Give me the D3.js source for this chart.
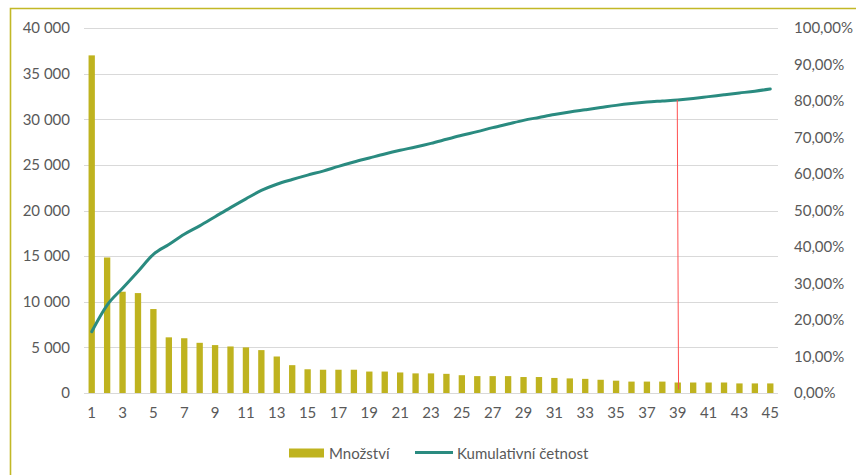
<!DOCTYPE html>
<html>
<head>
<meta charset="utf-8">
<script src="https://cdn.jsdelivr.net/npm/d3@7"></script>
<style>
  html, body { margin: 0; padding: 0; background: #fff; }
  svg text { font-family: Lato, "Open Sans", sans-serif; fill: #595959; }
</style>
</head>
<body>
<svg id="chart" width="856" height="475"></svg>
<script>
// Pareto chart: quantity per item (bars) and cumulative share (line)
const categories = d3.range(1, 46).map(String);

const quantities = [
  37000, 14850, 11100, 10950, 9200, 6100, 6000, 5500, 5250, 5100,
  5000, 4700, 4000, 3050, 2600, 2550, 2550, 2550, 2350, 2350,
  2250, 2150, 2150, 2100, 1950, 1850, 1850, 1850, 1750, 1750,
  1650, 1600, 1550, 1450, 1350, 1250, 1250, 1250, 1150, 1150,
  1150, 1150, 1050, 1050, 1050
];

// cumulative share in percent
const cumulative = [
  16.8, 24.1, 28.7, 33.3, 38.0, 40.7, 43.5, 45.8, 48.3, 50.8,
  53.2, 55.5, 57.2, 58.5, 59.7, 60.8, 62.1, 63.3, 64.4, 65.5,
  66.5, 67.4, 68.4, 69.5, 70.6, 71.6, 72.7, 73.7, 74.7, 75.5,
  76.3, 77.0, 77.6, 78.2, 78.8, 79.3, 79.7, 80.0, 80.3, 80.7,
  81.2, 81.7, 82.2, 82.7, 83.3
];

const leftTicks = [0, 5000, 10000, 15000, 20000, 25000, 30000, 35000, 40000];
const rightTicks = [0, 10, 20, 30, 40, 50, 60, 70, 80, 90, 100];
const xTickLabels = categories.filter((d, i) => i % 2 === 0);

const seriesNames = ["Množství", "Kumulativní četnost"];

// marker from the cumulative curve down to item 39
const markerItem = "39";
const markerBottomValue = 400;

const barColor = "#bfb31f";
const lineColor = "#2a8b80";
const gridColor = "#d9d9d9";
const fontSize = "15px";

const cz = d3.formatLocale({ decimal: ",", thousands: "\u00a0", grouping: [3], currency: ["", " Kč"] });
const fmtLeft = cz.format(",d");
const fmtRight = cz.format(".2%");

const svg = d3.select("#chart");
const plot = { left: 84, right: 778, top: 28, bottom: 393 };

const x = d3.scaleBand().domain(categories).range([plot.left, plot.right])
  .paddingInner(0.59).paddingOuter(0.295);
const y = d3.scaleLinear().domain([0, 40000]).range([plot.bottom, plot.top]);
const y2 = d3.scaleLinear().domain([0, 100]).range([plot.bottom, plot.top]);

// frame edges
svg.append("path")
  .attr("d", "M10.5,475 L10.5,8.5 L856,8.5")
  .attr("fill", "none").attr("stroke", "#c2b826").attr("stroke-width", 1.6);

// gridlines
svg.append("g").selectAll("line").data(leftTicks).join("line")
  .attr("x1", plot.left).attr("x2", plot.right)
  .attr("y1", d => Math.round(y(d)) + 0.5).attr("y2", d => Math.round(y(d)) + 0.5)
  .attr("stroke", gridColor).attr("stroke-width", 1);

// left axis
const leftAxis = d3.axisLeft(y).tickValues(leftTicks).tickFormat(fmtLeft).tickSize(0).tickPadding(14);
const gl = svg.append("g").attr("transform", `translate(${plot.left},0)`).call(leftAxis);
gl.select(".domain").remove();
gl.selectAll("text").style("font-size", fontSize).attr("fill", "#595959");

// right axis
const rightAxis = d3.axisRight(y2).tickValues(rightTicks).tickFormat(d => fmtRight(d / 100)).tickSize(0).tickPadding(16);
const gr = svg.append("g").attr("transform", `translate(${plot.right},0)`).call(rightAxis);
gr.select(".domain").remove();
gr.selectAll("text").style("font-size", fontSize).attr("fill", "#595959");

// bottom axis
const bottomAxis = d3.axisBottom(x).tickValues(xTickLabels).tickSize(0).tickPadding(14);
const gb = svg.append("g").attr("transform", `translate(0,${plot.bottom})`).call(bottomAxis);
gb.select(".domain").remove();
gb.selectAll("text").style("font-size", fontSize).attr("fill", "#595959");

// bars
svg.append("g").selectAll("rect").data(quantities).join("rect")
  .attr("x", (d, i) => x(categories[i]))
  .attr("width", x.bandwidth())
  .attr("y", d => y(d))
  .attr("height", d => y(0) - y(d))
  .attr("fill", barColor);

// cumulative line
const line = d3.line()
  .x((d, i) => x(categories[i]) + x.bandwidth() / 2)
  .y(d => y2(d))
  .curve(d3.curveMonotoneX);
svg.append("path").datum(cumulative)
  .attr("d", line)
  .attr("fill", "none").attr("stroke", lineColor)
  .attr("stroke-width", 3).attr("stroke-linecap", "round").attr("stroke-linejoin", "round");

// marker
const mi = categories.indexOf(markerItem);
const mx = x(markerItem) + x.bandwidth() / 2;
svg.append("line")
  .attr("x1", mx - 0.5).attr("y1", y2(cumulative[mi]))
  .attr("x2", mx + 0.8).attr("y2", y(markerBottomValue))
  .attr("stroke", "#ff5050").attr("stroke-width", 1);

// legend
const lg = svg.append("g").attr("transform", "translate(0,453)");
lg.append("rect").attr("x", 289).attr("y", -4.5).attr("width", 35).attr("height", 9).attr("fill", barColor);
lg.append("text").attr("x", 329).attr("y", 5.5).style("font-size", fontSize).text(seriesNames[0]);
lg.append("line").attr("x1", 415).attr("x2", 453).attr("y1", -0.5).attr("y2", -0.5)
  .attr("stroke", lineColor).attr("stroke-width", 3);
lg.append("text").attr("x", 457).attr("y", 5.5).style("font-size", fontSize).text(seriesNames[1]);
</script>
</body>
</html>
